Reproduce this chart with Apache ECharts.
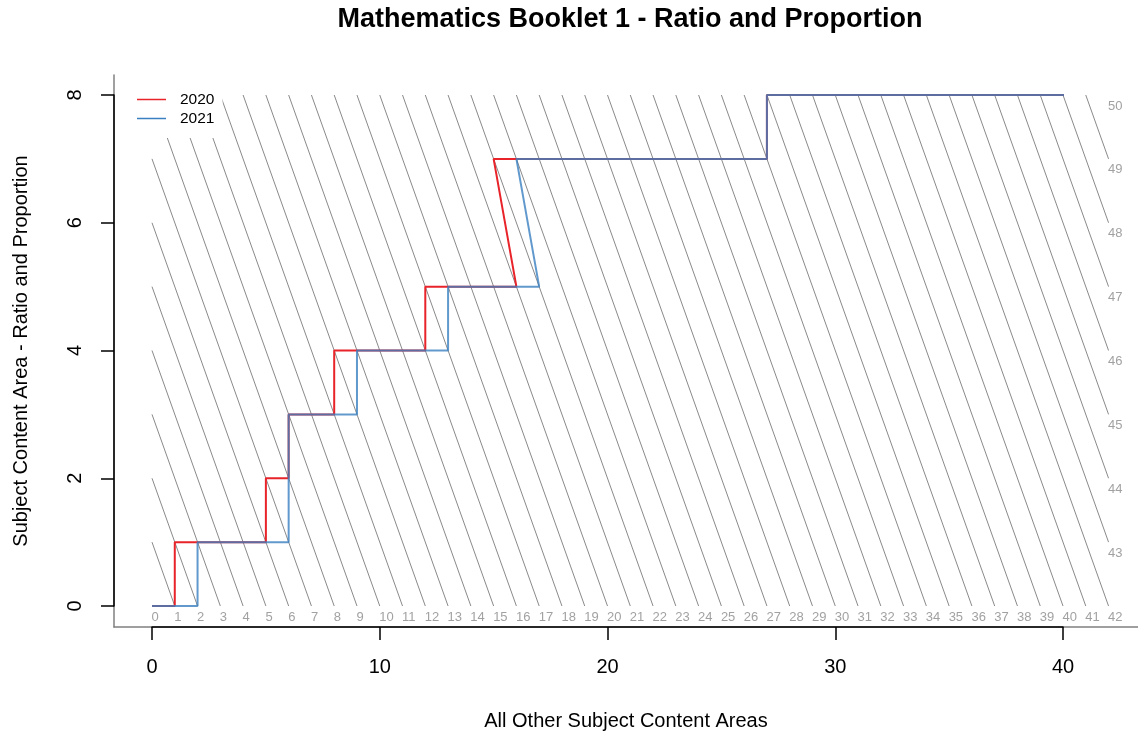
<!DOCTYPE html>
<html>
<head>
<meta charset="utf-8">
<script src="https://cdn.jsdelivr.net/npm/echarts@6/dist/echarts.min.js"></script>
<style>
html,body{margin:0;padding:0;background:#fff;}
#chart{width:1138px;height:737px;}
</style>
</head>
<body>
<div id="chart"></div>
<script>
// ---- data ----
const titleText = 'Mathematics Booklet 1 - Ratio and Proportion';
const xName = 'All Other Subject Content Areas';
const yName = 'Subject Content Area - Ratio and Proportion';
const seriesNames = ['2020', '2021'];
const x2020 = [0, 1, 1, 5, 5, 6, 6, 8, 8, 12, 12, 16, 15, 27, 27, 42];
const y2020 = [0, 0, 1, 1, 2, 2, 3, 3, 4, 4, 5, 5, 7, 7, 8, 8];
const x2021 = [0, 2, 2, 6, 6, 9, 9, 13, 13, 17, 16, 27, 27, 42];
const y2021 = [0, 0, 1, 1, 3, 3, 4, 4, 5, 5, 7, 7, 8, 8];
const maxOther = 42;   // max score on x
const maxArea = 8;     // max score on y
const totalScores = [0,1,2,3,4,5,6,7,8,9,10,11,12,13,14,15,16,17,18,19,20,21,22,23,24,25,26,27,28,29,30,31,32,33,34,35,36,37,38,39,40,41,42,43,44,45,46,47,48,49,50];
const xTicks = [0, 10, 20, 30, 40];
const yTicks = [0, 2, 4, 6, 8];

const FONT = '"Liberation Sans", Arial, sans-serif';
const pairs = (xs, ys) => xs.map((x, i) => [x, ys[i]]);

// iso-total lines x + y = k, clipped to the score box
const isoLines = totalScores.filter(k => k > 0 && k < maxOther + maxArea).map(k => ({
  coords: [[Math.max(0, k - maxArea), Math.min(k, maxArea)], [Math.min(k, maxOther), Math.max(0, k - maxOther)]]
}));
// total-score labels along bottom and right edges
const isoLabels = totalScores.map(k => k <= maxOther ? [k, 0, k] : [maxOther, k - maxOther, k]);

const chart = echarts.init(document.getElementById('chart'), null, {renderer: 'canvas'});
chart.setOption({
  animation: false,
  backgroundColor: '#fff',
  textStyle: {fontFamily: FONT},
  title: {
    text: titleText, left: 630, top: 6, textAlign: 'center', padding: 0,
    textStyle: {fontFamily: FONT, fontSize: 27, fontWeight: 'bold', color: '#000'}
  },
  legend: {
    data: seriesNames.map(n => ({name: n, icon: 'rect'})), orient: 'vertical', left: 115, top: 76,
    padding: [14, 8, 10, 22], itemGap: 0, itemWidth: 29, itemHeight: 1.5,
    backgroundColor: '#fff',
    textStyle: {fontFamily: FONT, fontSize: 15.5, color: '#000', lineHeight: 19, padding: [0, 0, 0, 9]}
  },
  grid: [
    {left: 114, right: 0, top: 75, bottom: 110},
    {left: 152, right: 75, top: 95, bottom: 131}
  ],
  xAxis: [
    {gridIndex: 0, type: 'value', min: 0, max: 1,
      name: xName, nameLocation: 'middle', nameGap: 84,
      nameTextStyle: {fontFamily: FONT, fontSize: 20, color: '#000'},
      axisLine: {show: true, onZero: false, lineStyle: {color: '#808080', width: 1.5}},
      axisTick: {show: false}, axisLabel: {show: false}, splitLine: {show: false}},
    {gridIndex: 1, type: 'value', min: xTicks[0], max: xTicks[xTicks.length - 1], interval: 10,
      offset: 21,
      axisLine: {show: true, onZero: false, lineStyle: {color: '#000', width: 1.5}},
      axisTick: {show: true, length: 13, lineStyle: {color: '#000', width: 1.5}},
      axisLabel: {fontFamily: FONT, fontSize: 20, color: '#000', margin: 30},
      splitLine: {show: false}}
  ],
  yAxis: [
    {gridIndex: 0, type: 'value', min: 0, max: 1,
      name: yName, nameLocation: 'middle', nameGap: 83, nameRotate: 90,
      nameTextStyle: {fontFamily: FONT, fontSize: 20, color: '#000'},
      axisLine: {show: true, onZero: false, lineStyle: {color: '#808080', width: 1.5}},
      axisTick: {show: false}, axisLabel: {show: false}, splitLine: {show: false}},
    {gridIndex: 1, type: 'value', min: yTicks[0], max: yTicks[yTicks.length - 1], interval: 2,
      offset: 38,
      axisLine: {show: true, onZero: false, lineStyle: {color: '#000', width: 1.5}},
      axisTick: {show: true, length: 13, lineStyle: {color: '#000', width: 1.5}},
      axisLabel: {fontFamily: FONT, fontSize: 20, color: '#000', margin: 29, rotate: 90},
      splitLine: {show: false}}
  ],
  series: [
    {type: 'lines', coordinateSystem: 'cartesian2d', xAxisIndex: 1, yAxisIndex: 1,
      data: isoLines, clip: false, silent: true, z: 1,
      lineStyle: {color: '#8a8a8a', width: 1, opacity: 1}},
    {type: 'scatter', xAxisIndex: 1, yAxisIndex: 1, data: isoLabels, clip: false, silent: true,
      symbolSize: 1, itemStyle: {color: 'rgba(0,0,0,0)'}, z: 1,
      label: {show: true, position: [0, 5], align: 'left', verticalAlign: 'top',
        formatter: p => String(p.value[2]), fontFamily: FONT, fontSize: 13, color: '#8a8a8a'}},
    {name: seriesNames[0], type: 'line', xAxisIndex: 1, yAxisIndex: 1, data: pairs(x2020, y2020),
      symbol: 'none', clip: false, z: 3, color: '#E8232A',
      lineStyle: {color: '#E8232A', width: 2}},
    {name: seriesNames[1], type: 'line', xAxisIndex: 1, yAxisIndex: 1, data: pairs(x2021, y2021),
      symbol: 'none', clip: false, z: 4, color: '#3A7FC0',
      lineStyle: {color: '#3A7FC0', width: 2, opacity: 0.8}}
  ]
});
</script>
</body>
</html>
